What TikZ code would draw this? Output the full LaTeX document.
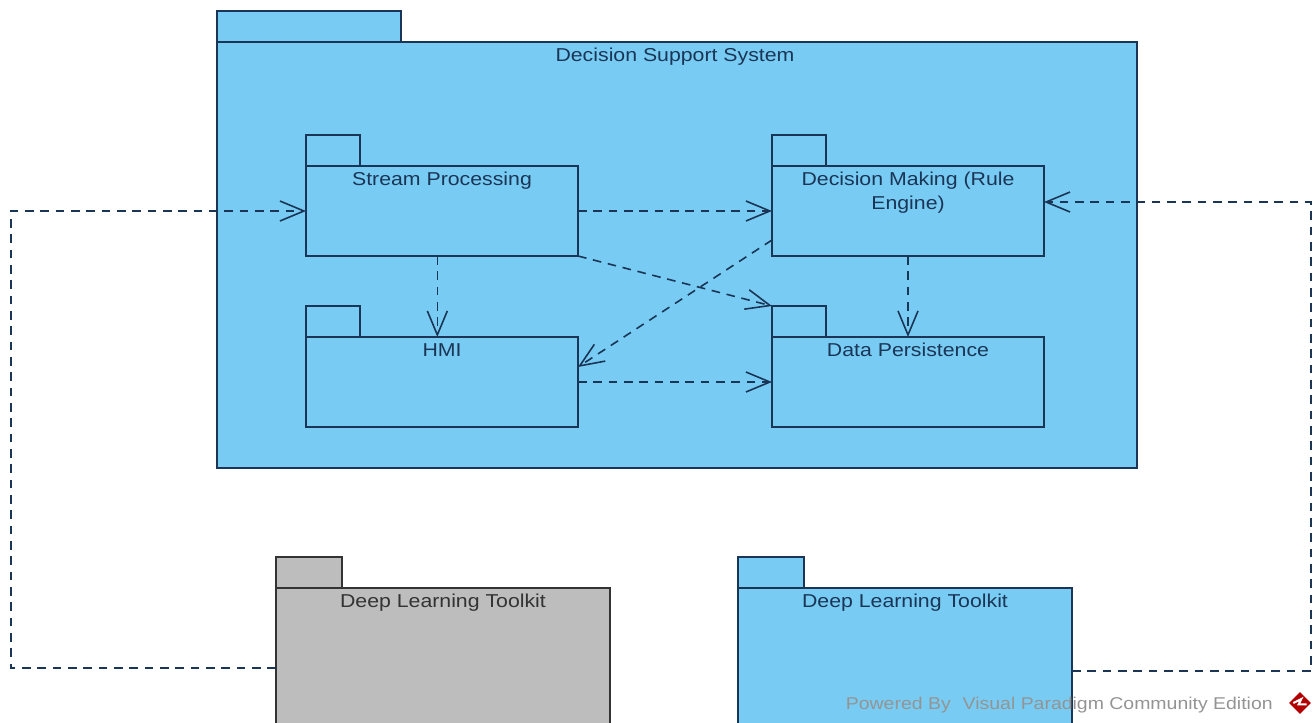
\documentclass[tikz,border=0pt]{standalone}
\usepackage{fontspec}
\setmainfont[FakeStretch=1.14]{Liberation Sans}
\usetikzlibrary{arrows.meta,shapes.geometric}

\definecolor{pkgblue}{HTML}{78CCF3}
\definecolor{pkggrey}{HTML}{BDBDBD}
\definecolor{pkgline}{HTML}{1B3556}

\begin{document}
\begin{tikzpicture}[
x=0.75pt,y=-0.75pt,
font=\fontsize{14}{18}\selectfont,
pkgbody/.style={rectangle,draw=pkgline,fill=pkgblue,line width=1.4pt,inner sep=0pt,outer sep=0pt,anchor=north west,minimum width=#1*0.75pt},
pkgtab/.style={rectangle,draw=pkgline,fill=pkgblue,line width=1.4pt,inner sep=0pt,outer sep=0pt,anchor=south west,minimum width=#1*0.75pt,minimum height=23.25pt},
pkglabel/.style={anchor=north,inner sep=0pt,align=center,text=pkgline,yshift=-1.5pt},
depend/.style={-{Straight Barb[length=18pt,width=15pt]},draw=pkgline,line width=1.2pt,dash pattern=on 6.5pt off 5pt},
]
\clip (0,0) rectangle (1316,722);

% Outer package
\node [pkgtab=184] (systemtab) at (217,42) {};
\node [pkgbody=920,minimum height=319.5pt] (system) at (217,42) {};
\node [pkglabel] (systemlabel) at ([xshift=-1.5pt]system.north) {\strut Decision Support System};

% Inner packages
\foreach \name/\x/\y/\txt in {stream/306/166/{Stream Processing},
    decision/772/166/{Decision Making (Rule\\Engine)},
    hmi/306/337/{HMI},
    persistence/772/337/{Data Persistence}} {
  \node [pkgtab=54] (\name tab) at (\x,\y) {};
  \node [pkgbody=272,minimum height=67.5pt] (\name) at (\x,\y) {};
  \node [pkglabel] (\name label) at (\name.north) {\strut\txt};
}

% Toolkit packages, they run off the page
\node [pkgtab=66,fill=pkggrey,draw=black!80] (greykittab) at (276,588) {};
\node [pkgbody=334,fill=pkggrey,draw=black!80,minimum height=120pt] (greykit) at (276,588) {};
\node [pkglabel,text=black!80] (greykitlabel) at (greykit.north) {\strut Deep Learning Toolkit};
\node [pkgtab=66] (bluekittab) at (738,588) {};
\node [pkgbody=334,minimum height=124.5pt] (bluekit) at (738,588) {};
\node [pkglabel] (bluekitlabel) at (bluekit.north) {\strut Deep Learning Toolkit};

% Dependencies inside the system
\draw [depend] (stream.east) -- (decision.west);
\draw [depend] (hmi.east) -- (persistence.west);
\draw [depend] ([xshift=-3.5pt]stream.south) -- ([xshift=-3.5pt]hmi.north);
\draw [depend] (decision.south) -- (persistence.north);
\draw [depend] (stream.south east) -- (persistencetab.north west);
\draw [depend] ([yshift=12pt]decision.south west) -- ([yshift=-22.5pt]hmi.north east);

% Dependencies from the toolkits
\coordinate (leftbend) at (11,668);
\coordinate (rightbend) at (1311,671);
\draw [depend] (greykit.west) -- (leftbend) -- (leftbend |- stream.west) -- (stream.west);
\draw [depend] (bluekit.east) -- (rightbend) -- (rightbend |- 0,202) -- ([yshift=6.75pt]decision.east);

% Watermark
\node [anchor=east,inner sep=0pt,text=black!42,font=\fontsize{12.8}{14}\selectfont] (watermark) at (1273,705) {Powered By\hspace{0.7em}Visual Paradigm Community Edition};
\node [diamond,fill=red!70!black,inner sep=0pt,minimum size=16.5pt] (logo) at (1300,703) {};
\draw [white,line width=1.5pt] ([xshift=-5pt,yshift=0pt]logo.center) -- ([xshift=1pt,yshift=3pt]logo.center) -- ([xshift=-1pt,yshift=-1pt]logo.center) -- ([xshift=5pt,yshift=-1pt]logo.center);
\end{tikzpicture}
\end{document}
